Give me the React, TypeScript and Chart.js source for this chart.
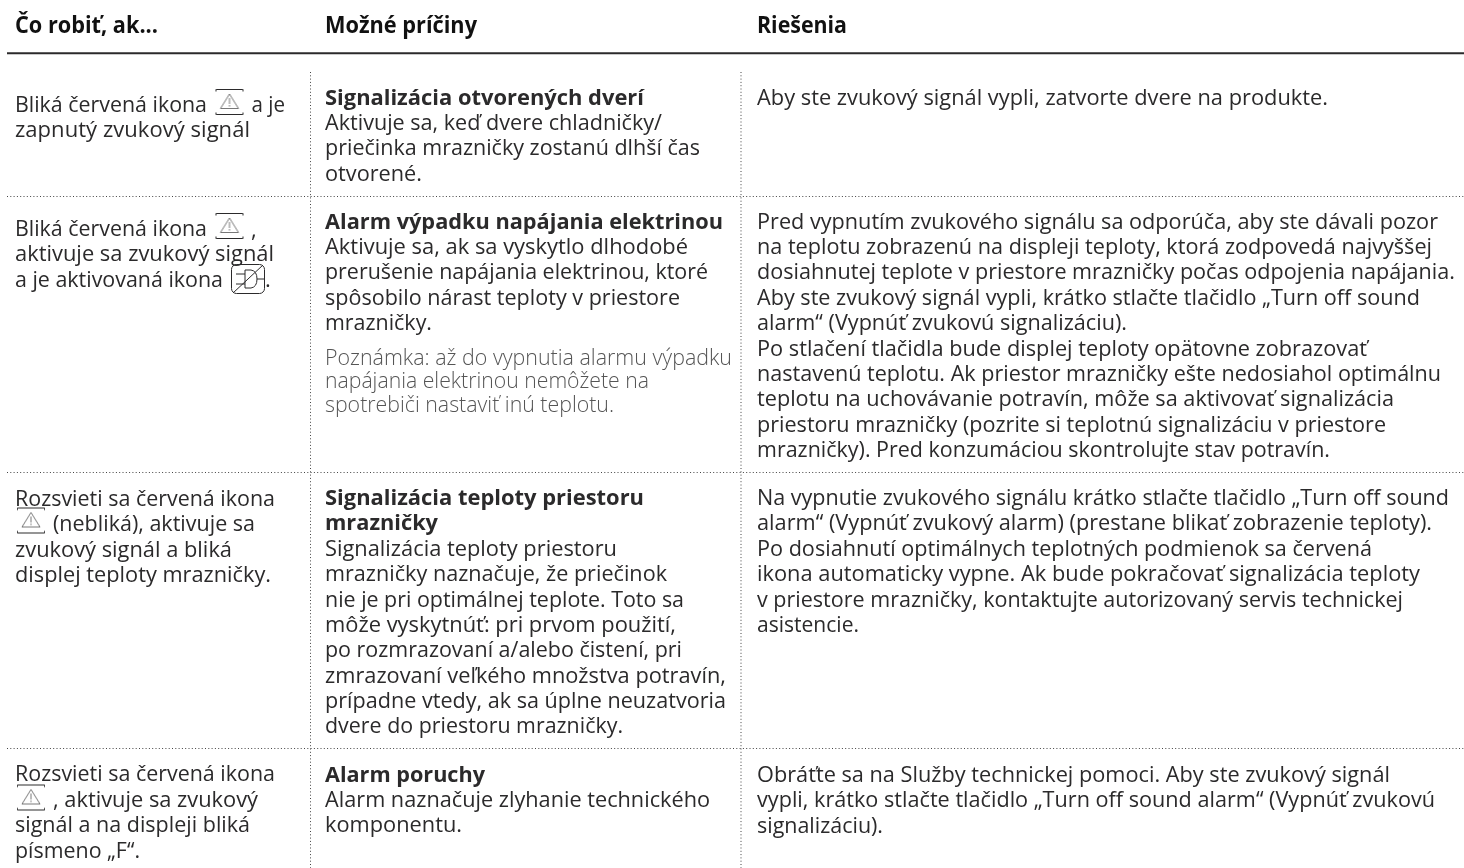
import React, { useEffect, useRef } from "react";
import { Chart, registerables } from "chart.js";

Chart.register(...registerables);

// ---- content ----
const headers = ["Čo robiť, ak...", "Možné príčiny", "Riešenia"];

const whenRow1 = ["Bliká červená ikona", "zapnutý zvukový signál"];
const whenRow2 = ["Bliká červená ikona", "aktivuje sa zvukový signál", "a je aktivovaná ikona"];
const whenRow3 = ["Rozsvieti sa červená ikona", "", "zvukový signál a bliká", "displej teploty mrazničky."];
const whenRow4 = ["Rozsvieti sa červená ikona", "", "signál a na displeji bliká", "písmeno „F“."];

const causeTitle1 = ["Signalizácia otvorených dverí"];
const causeBody1 = ["Aktivuje sa, keď dvere chladničky/", "priečinka mrazničky zostanú dlhší čas", "otvorené."];
const causeTitle2 = ["Alarm výpadku napájania elektrinou"];
const causeBody2 = ["Aktivuje sa, ak sa vyskytlo dlhodobé", "prerušenie napájania elektrinou, ktoré", "spôsobilo nárast teploty v priestore", "mrazničky."];
const causeNote2 = ["Poznámka: až do vypnutia alarmu výpadku", "napájania elektrinou nemôžete na", "spotrebiči nastaviť inú teplotu."];
const causeTitle3 = ["Signalizácia teploty priestoru", "mrazničky"];
const causeBody3 = ["Signalizácia teploty priestoru", "mrazničky naznačuje, že priečinok", "nie je pri optimálnej teplote. Toto sa", "môže vyskytnúť: pri prvom použití,", "po rozmrazovaní a/alebo čistení, pri", "zmrazovaní veľkého množstva potravín,", "prípadne vtedy, ak sa úplne neuzatvoria", "dvere do priestoru mrazničky."];
const causeTitle4 = ["Alarm poruchy"];
const causeBody4 = ["Alarm naznačuje zlyhanie technického", "komponentu."];

const fixRow1 = ["Aby ste zvukový signál vypli, zatvorte dvere na produkte."];
const fixRow2 = ["Pred vypnutím zvukového signálu sa odporúča, aby ste dávali pozor", "na teplotu zobrazenú na displeji teploty, ktorá zodpovedá najvyššej", "dosiahnutej teplote v priestore mrazničky počas odpojenia napájania.", "Aby ste zvukový signál vypli, krátko stlačte tlačidlo „Turn off sound", "alarm“ (Vypnúť zvukovú signalizáciu).", "Po stlačení tlačidla bude displej teploty opätovne zobrazovať", "nastavenú teplotu. Ak priestor mrazničky ešte nedosiahol optimálnu", "teplotu na uchovávanie potravín, môže sa aktivovať signalizácia", "priestoru mrazničky (pozrite si teplotnú signalizáciu v priestore", "mrazničky). Pred konzumáciou skontrolujte stav potravín."];
const fixRow3 = ["Na vypnutie zvukového signálu krátko stlačte tlačidlo „Turn off sound", "alarm“ (Vypnúť zvukový alarm) (prestane blikať zobrazenie teploty).", "Po dosiahnutí optimálnych teplotných podmienok sa červená", "ikona automaticky vypne. Ak bude pokračovať signalizácia teploty", "v priestore mrazničky, kontaktujte autorizovaný servis technickej", "asistencie."];
const fixRow4 = ["Obráťte sa na Služby technickej pomoci. Aby ste zvukový signál", "vypli, krátko stlačte tlačidlo „Turn off sound alarm“ (Vypnúť zvukovú", "signalizáciu)."];

// Text that follows an inline icon
const afterIcon = ["a je", ",", "(nebliká), aktivuje sa", ", aktivuje sa zvukový", "."];

// ---- layout (pixel scale of the axes): where each line of text ends ----
const headerEnds = [158, 477, 847];
const whenEnds1 = [207, 250];
const whenEnds2 = [207, 274, 223];
const whenEnds3 = [275, 0, 232, 271];
const whenEnds4 = [275, 0, 250, 140];
const titleEnds1 = [644];
const bodyEnds1 = [662, 700, 422];
const titleEnds2 = [723];
const bodyEnds2 = [688, 708, 680, 432];
const noteEnds2 = [732, 649, 614];
const titleEnds3 = [644, 438];
const bodyEnds3 = [617, 667, 684, 676, 682, 726, 726, 623];
const titleEnds4 = [485];
const bodyEnds4 = [710, 462];
const fixEnds1 = [1328];
const fixEnds2 = [1438, 1432, 1455, 1420, 1127, 1367, 1441, 1394, 1386, 1330];
const fixEnds3 = [1449, 1432, 1372, 1420, 1403, 859];
const fixEnds4 = [1390, 1435, 883];

const colX = [15, 325, 757];
const headerY = 33;
const pitch = 25.4;
const notePitch = 23.4;
const ruleX = [310.5, 741];
const ruleTop = 72;
const rowRuleY = [196.5, 472.5, 748.5];
const headRuleY = 53.3;
const W = 1464;
const H = 868;

const afterIconPos = [
  { x: 251.5, y: 112, end: 285 },
  { x: 251, y: 236.5, end: 0 },
  { x: 53, y: 531, end: 255 },
  { x: 53, y: 807, end: 258 },
  { x: 265, y: 287, end: 0 },
];
const warnPos = [
  { x: 229.5, y: 102 },
  { x: 229.5, y: 226 },
  { x: 31, y: 520.5 },
  { x: 31, y: 797.5 },
];
const plugPos = [{ x: 248, y: 279 }];

const FONT = '"Open Sans"';
const INK = "#2b2a2b";

function place(lines: string[], ends: number[], x: number, y: number, step = pitch) {
  return lines.map((text, i) => ({ x, y: y + i * step, text, end: ends[i] })).filter((p) => p.text);
}

function warnIcon() {
  const c = document.createElement("canvas");
  c.width = 30;
  c.height = 28;
  const g = c.getContext("2d")!;
  g.strokeStyle = "#2b2a2b";
  g.lineWidth = 1;
  g.beginPath();
  g.moveTo(1.5, 3.5); g.lineTo(1.5, 1.5); g.lineTo(28.5, 1.5); g.lineTo(28.5, 3.5);
  g.moveTo(1.5, 24.5); g.lineTo(1.5, 26.5); g.lineTo(28.5, 26.5); g.lineTo(28.5, 24.5);
  g.stroke();
  g.strokeStyle = "#555";
  g.lineWidth = 0.8;
  g.beginPath();
  g.moveTo(15, 6); g.lineTo(24, 20.5); g.lineTo(6, 20.5); g.closePath();
  g.moveTo(15, 10); g.lineTo(15, 16);
  g.moveTo(15, 17); g.lineTo(15, 18.6);
  g.stroke();
  return c;
}

function plugIcon() {
  const c = document.createElement("canvas");
  c.width = 36;
  c.height = 32;
  const g = c.getContext("2d")!;
  g.strokeStyle = "#2b2a2b";
  g.lineWidth = 1;
  g.beginPath();
  g.roundRect(1.5, 1.5, 33, 29, 5);
  g.stroke();
  g.beginPath();
  g.moveTo(6, 11); g.lineTo(15, 11);
  g.moveTo(6, 21); g.lineTo(15, 21);
  g.moveTo(15, 7); g.lineTo(15, 25);
  g.moveTo(15, 7); g.lineTo(21, 7); g.quadraticCurveTo(27, 8, 27, 16); g.quadraticCurveTo(27, 24, 21, 25); g.lineTo(15, 25);
  g.moveTo(27, 16); g.lineTo(34, 16);
  g.moveTo(3, 30); g.lineTo(33, 2);
  g.stroke();
  return c;
}

const textPlugin = {
  id: "cellText",
  afterDatasetsDraw(chart: any) {
    const ctx = chart.ctx;
    const xs = chart.scales.x;
    chart.data.datasets.forEach((ds: any, i: number) => {
      if (!ds.textStyle) return;
      const meta = chart.getDatasetMeta(i);
      ctx.save();
      ctx.font = ds.textStyle.font;
      ctx.fillStyle = ds.textStyle.color;
      ctx.textAlign = "left";
      ctx.textBaseline = "alphabetic";
      ds.data.forEach((p: any, j: number) => {
        const el = meta.data[j];
        const natural = ctx.measureText(p.text).width;
        const target = p.end ? xs.getPixelForValue(p.end) - el.x : natural;
        if (target < natural) {
          ctx.letterSpacing = "0px";
          ctx.fillText(p.text, el.x, el.y, target);
        } else {
          ctx.letterSpacing = `${(target - natural) / p.text.length}px`;
          ctx.fillText(p.text, el.x, el.y);
          ctx.letterSpacing = "0px";
        }
      });
      ctx.restore();
    });
  },
};

export default function App() {
  const ref = useRef<HTMLCanvasElement>(null);
  useEffect(() => {
    const textDs = (data: any[], font: string, color: string) => ({
      data,
      textStyle: { font, color },
      pointRadius: 0,
      showLine: false,
    });
    const rule = (data: any[], width: number, dash: number[], color: string) => ({
      data,
      showLine: true,
      pointRadius: 0,
      borderWidth: width,
      borderDash: dash,
      borderColor: color,
    });
    const BODY = `400 22px ${FONT}`;
    const BOLD = `700 22px ${FONT}`;
    const HEAD = `700 22.5px ${FONT}`;
    const NOTE = `300 21.5px ${FONT}`;
    const chart = new Chart(ref.current!, {
      type: "scatter",
      data: {
        datasets: [
          rule([{ x: 7, y: headRuleY }, { x: W, y: headRuleY }], 2, [], "#2b2a2b"),
          ...rowRuleY.map((y) => rule([{ x: 7, y }, { x: W, y }], 1, [1, 2.3], "#444")),
          ...ruleX.map((x) => rule([{ x, y: ruleTop }, { x, y: H }], 1, [1, 2.3], "#444")),
          textDs(
            headers.flatMap((h, i) => place([h], [headerEnds[i]], colX[i], headerY)),
            HEAD,
            "#111"
          ),
          textDs(
            [
              ...place(whenRow1, whenEnds1, colX[0], 112),
              ...place(whenRow2, whenEnds2, colX[0], 236),
              ...place(whenRow3, whenEnds3, colX[0], 505.5, 25.6),
              ...place(whenRow4, whenEnds4, colX[0], 781, 25.7),
              ...place(causeBody1, bodyEnds1, colX[1], 130),
              ...place(causeBody2, bodyEnds2, colX[1], 253.5, 25.6),
              ...place(causeBody3, bodyEnds3, colX[1], 556, 25.3),
              ...place(causeBody4, bodyEnds4, colX[1], 807),
              ...place(fixRow1, fixEnds1, colX[2], 104.5),
              ...place(fixRow2, fixEnds2, colX[2], 228.5),
              ...place(fixRow3, fixEnds3, colX[2], 505),
              ...place(fixRow4, fixEnds4, colX[2], 781.5, 25.7),
              ...afterIcon.map((text, i) => ({ ...afterIconPos[i], text })),
            ],
            BODY,
            INK
          ),
          textDs(
            [
              ...place(causeTitle1, titleEnds1, colX[1], 105),
              ...place(causeTitle2, titleEnds2, colX[1], 228.5),
              ...place(causeTitle3, titleEnds3, colX[1], 505),
              ...place(causeTitle4, titleEnds4, colX[1], 781.5),
            ],
            BOLD,
            INK
          ),
          textDs(place(causeNote2, noteEnds2, colX[1], 365, notePitch), NOTE, "#555"),
          { data: warnPos, pointStyle: warnIcon(), showLine: false },
          { data: plugPos, pointStyle: plugIcon(), showLine: false },
        ] as any,
      },
      options: {
        animation: false,
        responsive: false,
        layout: { padding: 0, autoPadding: false },
        plugins: { legend: { display: false }, tooltip: { enabled: false } },
        scales: {
          x: { type: "linear", min: 0, max: W, display: false },
          y: { type: "linear", min: 0, max: H, reverse: true, display: false },
        },
      },
      plugins: [textPlugin],
    });
    return () => chart.destroy();
  }, []);
  return (
    <canvas
      ref={ref}
      width={W}
      height={H}
      style={{ position: "absolute", left: 0, top: 0, display: "block" }}
    />
  );
}
